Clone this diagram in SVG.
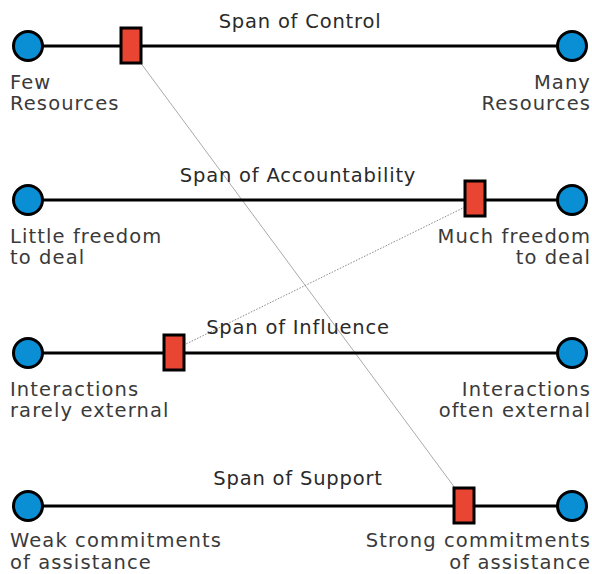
<svg xmlns="http://www.w3.org/2000/svg" width="592" height="574" viewBox="0 0 592 574">
  <style>
    .track { stroke: #000; stroke-width: 3; fill: none; }
    .end { fill: #0a8fd4; stroke: #000; stroke-width: 3; }
    .marker { fill: #e94533; stroke: #000; stroke-width: 3; }
    .title { font-family: "DejaVu Sans", Verdana, sans-serif; font-size: 19.5px; letter-spacing: 0.8px; fill: #2a2a2a; text-anchor: middle; }
    .lbl { font-family: "DejaVu Sans", Verdana, sans-serif; font-size: 19.5px; letter-spacing: 1.1px; fill: #3a3a3a; }
    .r { text-anchor: end; }
    .link { stroke: #aaa; stroke-width: 1; fill: none; }
    .dot { stroke-dasharray: 1.5 1.5; stroke: #888; }
  </style>
  <rect width="592" height="574" fill="#fff"/>

  <g id="connectors">
    <line class="link" x1="140" y1="62" x2="455" y2="488"/>
    <line class="link dot" x1="465" y1="207" x2="184" y2="345"/>
  </g>

  <g id="control">
    <text class="title" x="300" y="28">Span of Control</text>
    <line class="track" x1="28" y1="46" x2="572" y2="46"/>
    <circle class="end" cx="28" cy="46" r="14.5"/>
    <circle class="end" cx="572" cy="46" r="14.5"/>
    <rect class="marker" x="121" y="28" width="20" height="35"/>
    <text class="lbl" x="10" y="89">Few</text>
    <text class="lbl" x="10" y="110">Resources</text>
    <text class="lbl r" x="591" y="89">Many</text>
    <text class="lbl r" x="591" y="110">Resources</text>
  </g>

  <g id="accountability">
    <text class="title" x="298" y="182">Span of Accountability</text>
    <line class="track" x1="28" y1="200" x2="572" y2="200"/>
    <circle class="end" cx="28" cy="200" r="14.5"/>
    <circle class="end" cx="572" cy="200" r="14.5"/>
    <rect class="marker" x="465" y="181" width="20" height="35"/>
    <text class="lbl" x="10" y="243">Little freedom</text>
    <text class="lbl" x="10" y="264">to deal</text>
    <text class="lbl r" x="591" y="243">Much freedom</text>
    <text class="lbl r" x="591" y="264">to deal</text>
  </g>

  <g id="influence">
    <text class="title" x="298" y="334">Span of Influence</text>
    <line class="track" x1="28" y1="353" x2="572" y2="353"/>
    <circle class="end" cx="28" cy="353" r="14.5"/>
    <circle class="end" cx="572" cy="353" r="14.5"/>
    <rect class="marker" x="164" y="335" width="20" height="35"/>
    <text class="lbl" x="10" y="396">Interactions</text>
    <text class="lbl" x="10" y="417">rarely external</text>
    <text class="lbl r" x="591" y="396">Interactions</text>
    <text class="lbl r" x="591" y="417">often external</text>
  </g>

  <g id="support">
    <text class="title" x="298" y="485">Span of Support</text>
    <line class="track" x1="28" y1="506" x2="572" y2="506"/>
    <circle class="end" cx="28" cy="506" r="14.5"/>
    <circle class="end" cx="572" cy="506" r="14.5"/>
    <rect class="marker" x="454" y="488" width="20" height="35"/>
    <text class="lbl" x="10" y="547">Weak commitments</text>
    <text class="lbl" x="10" y="569">of assistance</text>
    <text class="lbl r" x="591" y="547">Strong commitments</text>
    <text class="lbl r" x="591" y="569">of assistance</text>
  </g>
</svg>
